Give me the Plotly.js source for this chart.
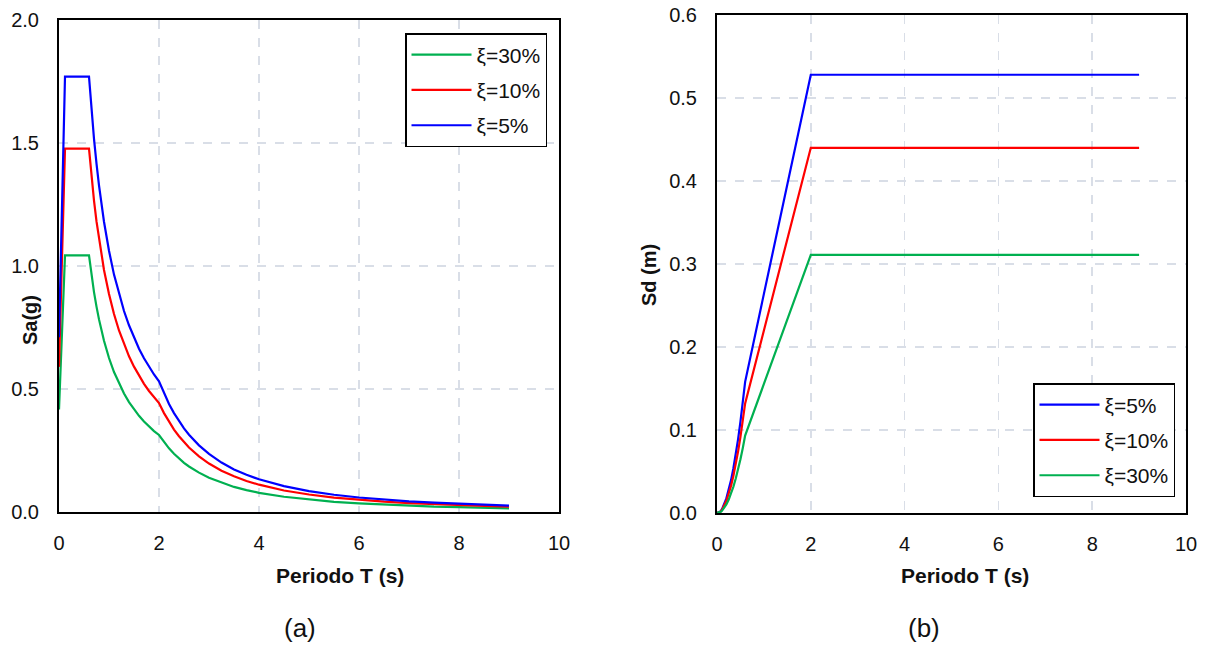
<!DOCTYPE html>
<html>
<head>
<meta charset="utf-8">
<script src="https://cdn.plot.ly/plotly-3.0.1.min.js"></script>
<style>html,body{margin:0;padding:0;background:#fff;}#chart{width:1206px;height:646px;}</style>
</head>
<body>
<div id="chart"></div>
<script>
// ---- (a) Pseudo-acceleration spectra Sa(g) ----
const periodSa = [0, 0.12, 0.6, 0.65, 0.7, 0.75, 0.8, 0.9, 1.0, 1.1, 1.2, 1.3, 1.4, 1.5, 1.6, 1.7, 1.8, 1.9, 2.0,
                  2.1, 2.2, 2.3, 2.4, 2.5, 2.6, 2.8, 3.0, 3.25, 3.5, 3.75, 4.0, 4.5, 5.0, 5.5, 6.0, 6.5, 7.0, 7.5, 8.0, 8.5, 9.0];
const saXi5  = [0.71, 1.77, 1.77, 1.634, 1.517, 1.416, 1.328, 1.180, 1.062, 0.965, 0.885, 0.817, 0.759, 0.708, 0.664, 0.625, 0.590, 0.559, 0.531,
                0.482, 0.439, 0.402, 0.369, 0.340, 0.314, 0.271, 0.236, 0.201, 0.173, 0.151, 0.133, 0.105, 0.085, 0.070, 0.059, 0.050, 0.043, 0.038, 0.033, 0.029, 0.026];
const saXi10 = [0.59, 1.477, 1.477, 1.363, 1.266, 1.181, 1.108, 0.984, 0.886, 0.805, 0.738, 0.682, 0.633, 0.591, 0.554, 0.521, 0.492, 0.466, 0.443,
                0.402, 0.366, 0.335, 0.308, 0.284, 0.262, 0.226, 0.197, 0.168, 0.145, 0.126, 0.111, 0.0875, 0.071, 0.0586, 0.049, 0.042, 0.036, 0.0315, 0.028, 0.0245, 0.022];
const saXi30 = [0.417, 1.043, 1.043, 0.963, 0.894, 0.835, 0.783, 0.696, 0.626, 0.569, 0.522, 0.482, 0.447, 0.417, 0.391, 0.368, 0.348, 0.329, 0.313,
                0.284, 0.259, 0.237, 0.217, 0.200, 0.185, 0.160, 0.139, 0.119, 0.102, 0.089, 0.078, 0.062, 0.050, 0.041, 0.035, 0.030, 0.026, 0.022, 0.020, 0.017, 0.015];

// ---- (b) Displacement spectra Sd (m) ----
const periodSd = [0, 0.06, 0.09, 0.12, 0.2, 0.25, 0.3, 0.35, 0.4, 0.45, 0.5, 0.55, 0.6, 1.0, 1.5, 2.0, 9.0];
const sdXi5  = [0, 0.0011, 0.0030, 0.0063, 0.0176, 0.0275, 0.0396, 0.0539, 0.0704, 0.0891, 0.110, 0.1331, 0.158, 0.264, 0.396, 0.528, 0.528];
const sdXi10 = [0, 0.0009, 0.0025, 0.0053, 0.0147, 0.0229, 0.0330, 0.0450, 0.0587, 0.0743, 0.0918, 0.1110, 0.132, 0.220, 0.330, 0.440, 0.440];
const sdXi30 = [0, 0.0007, 0.0018, 0.0037, 0.0104, 0.0162, 0.0233, 0.0318, 0.0415, 0.0525, 0.0648, 0.0784, 0.0933, 0.1555, 0.233, 0.311, 0.311];

const names = {xi5: 'ξ=5%', xi10: 'ξ=10%', xi30: 'ξ=30%'};
const colors = {xi5: '#0000FF', xi10: '#FF0000', xi30: '#00B050'};

const xTickVals = [0, 2, 4, 6, 8, 10];
const saTickVals = [0, 0.5, 1.0, 1.5, 2.0];
const sdTickVals = [0, 0.1, 0.2, 0.3, 0.4, 0.5, 0.6];

const W = 1206, H = 646;
const px = v => v / W;
const py = v => 1 - v / H;

const FONT = 'Liberation Sans, Arial, sans-serif';
const LW = 2.2;

function line(x, y, key, xa, ya, legend) {
  return {
    type: 'scatter', mode: 'lines', x: x, y: y, name: names[key],
    xaxis: xa, yaxis: ya, legend: legend, legendgroup: legend + key,
    line: {color: colors[key], width: LW}
  };
}

const traces = [
  line(periodSa, saXi30, 'xi30', 'x', 'y', 'legend'),
  line(periodSa, saXi10, 'xi10', 'x', 'y', 'legend'),
  line(periodSa, saXi5,  'xi5',  'x', 'y', 'legend'),
  line(periodSd, sdXi5,  'xi5',  'x2', 'y2', 'legend2'),
  line(periodSd, sdXi10, 'xi10', 'x2', 'y2', 'legend2'),
  line(periodSd, sdXi30, 'xi30', 'x2', 'y2', 'legend2')
];

const gridStyle = {
  showgrid: true, gridcolor: '#D9DEE7', gridwidth: 1.5, griddash: 'dash',
  zeroline: false, showline: true, mirror: true, linecolor: '#000', linewidth: 2,
  ticks: '', tickfont: {family: FONT, size: 20, color: '#111'}
};

const legendStyle = {
  font: {family: FONT, size: 21, color: '#111'},
  bordercolor: '#000', borderwidth: 1.5, bgcolor: '#fff',
  traceorder: 'grouped', tracegroupgap: 5, itemwidth: 60
};

const layout = {
  width: W, height: H,
  margin: {l: 0, r: 0, t: 0, b: 0},
  paper_bgcolor: '#fff', plot_bgcolor: '#fff',
  showlegend: true,
  xaxis: Object.assign({}, gridStyle, {
    domain: [px(59), px(559)], range: [0, 10], tickvals: xTickVals, ticktext: xTickVals.map(String),
    ticklabelstandoff: 12, anchor: 'y'
  }),
  yaxis: Object.assign({}, gridStyle, {
    domain: [py(512), py(20)], range: [0, 2.0], tickvals: saTickVals, tickformat: '.1f',
    ticklabelstandoff: 14, anchor: 'x'
  }),
  xaxis2: Object.assign({}, gridStyle, {
    domain: [px(717), px(1186)], range: [0, 10], tickvals: xTickVals, ticktext: xTickVals.map(String),
    ticklabelstandoff: 12, anchor: 'y2'
  }),
  yaxis2: Object.assign({}, gridStyle, {
    domain: [py(513), py(15)], range: [0, 0.6], tickvals: sdTickVals, tickformat: '.1f',
    ticklabelstandoff: 14, anchor: 'x2'
  }),
  legend: Object.assign({}, legendStyle, {entrywidth: 152, x: px(547), y: py(33), xanchor: 'right', yanchor: 'top'}),
  legend2: Object.assign({}, legendStyle, {entrywidth: 168, x: px(1175), y: py(497), xanchor: 'right', yanchor: 'bottom'}),
  annotations: [
    {text: '<b>Sa(g)</b>', xref: 'paper', yref: 'paper', x: px(30), y: py(320), textangle: -90,
     showarrow: false, font: {family: FONT, size: 20, color: '#111'}, xanchor: 'center', yanchor: 'middle'},
    {text: '<b>Sd (m)</b>', xref: 'paper', yref: 'paper', x: px(649), y: py(275), textangle: -90,
     showarrow: false, font: {family: FONT, size: 20, color: '#111'}, xanchor: 'center', yanchor: 'middle'},
    {text: '<b>Periodo T (s)</b>', xref: 'paper', yref: 'paper', x: px(340), y: py(575),
     showarrow: false, font: {family: FONT, size: 21, color: '#111'}, xanchor: 'center', yanchor: 'middle'},
    {text: '<b>Periodo T (s)</b>', xref: 'paper', yref: 'paper', x: px(965), y: py(575),
     showarrow: false, font: {family: FONT, size: 21, color: '#111'}, xanchor: 'center', yanchor: 'middle'},
    {text: '(a)', xref: 'paper', yref: 'paper', x: px(300), y: py(628),
     showarrow: false, font: {family: FONT, size: 26, color: '#111'}, xanchor: 'center', yanchor: 'middle'},
    {text: '(b)', xref: 'paper', yref: 'paper', x: px(924), y: py(628),
     showarrow: false, font: {family: FONT, size: 26, color: '#111'}, xanchor: 'center', yanchor: 'middle'}
  ]
};

Plotly.newPlot('chart', traces, layout, {displayModeBar: false, staticPlot: true});
</script>
</body>
</html>
